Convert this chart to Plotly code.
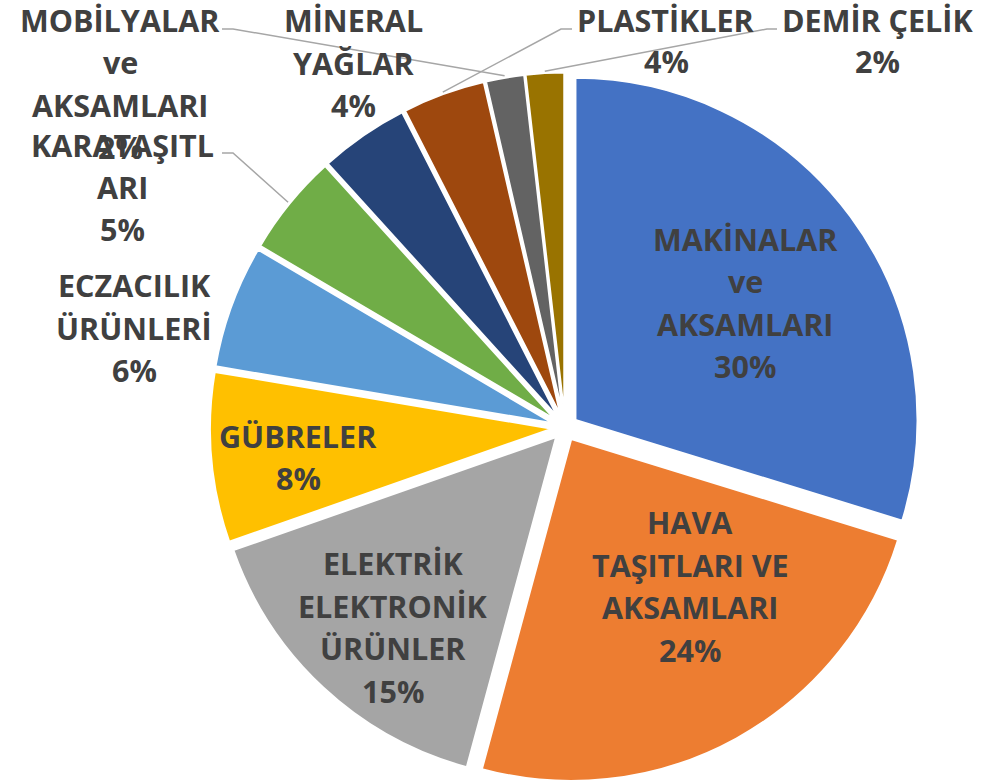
import math
import plotly.graph_objects as go

# ---- data ----
categories = ["MAKİNALAR ve AKSAMLARI", "HAVA TAŞITLARI VE AKSAMLARI",
              "ELEKTRİK ELEKTRONİK ÜRÜNLER", "GÜBRELER", "ECZACILIK ÜRÜNLERİ",
              "KARATAŞITLARI", "MİNERAL YAĞLAR", "PLASTİKLER",
              "MOBİLYALAR ve AKSAMLARI", "DEMİR ÇELİK"]
values = [29.7, 24.4, 15.4, 8.0, 5.8, 4.8, 4.2, 3.9, 1.8, 1.8]
label_lines = [["MAKİNALAR", "ve", "AKSAMLARI"],
               ["HAVA", "TAŞITLARI VE", "AKSAMLARI"],
               ["ELEKTRİK", "ELEKTRONİK", "ÜRÜNLER"],
               ["GÜBRELER"],
               ["ECZACILIK", "ÜRÜNLERİ"],
               ["KARATAŞITL", "ARI"],
               ["MİNERAL", "YAĞLAR"],
               ["PLASTİKLER"],
               ["MOBİLYALAR", "ve", "AKSAMLARI"],
               ["DEMİR ÇELİK"]]
colors = ["#4472C4", "#ED7D31", "#A5A5A5", "#FFC000", "#5B9BD5",
          "#70AD47", "#264478", "#9E480E", "#636363", "#997300"]

# ---- layout constants ----
W, H = 997, 783
PULL = 0.038
DOM_X = [0.2106, 0.9228]
DOM_Y = [0.0005, 0.9073]
FONT = "Open Sans"
FS = 30.5
TXT = "#404040"
# label placement: (center x px, first line center y px, line step px)
label_pos = [(745, 239, 42.4), (690, 522, 42.6), (393, 563, 42.6),
             (298, 436, 42.0), (134, 285, 42.5), (122, 145, 42.0),
             (353, 20, 42.5), (666, 20, 41.0), (120, 20, 42.3),
             (877, 20, 41.0)]
# leader lines: slice index -> (text end x, elbow x, y)
leaders = {5: (222, 233, 153), 7: (572, 561, 29), 8: (222, 233, 29),
           9: (777, 767, 29)}

total = sum(values)
pcts = [f"{round(v / total * 100)}%" for v in values]

fig = go.Figure(go.Pie(
    labels=categories, values=values, sort=False, direction="clockwise",
    rotation=0, pull=[PULL] * len(values), textinfo="none",
    hoverinfo="label+percent",
    marker=dict(colors=colors, line=dict(color="white", width=2)),
    domain=dict(x=DOM_X, y=DOM_Y), showlegend=False))


def px2paper(x, y):
    return x / W, 1 - y / H


annotations = []
for i, (lines, (x, y0, step)) in enumerate(zip(label_lines, label_pos)):
    for j, t in enumerate(lines + [pcts[i]]):
        px, py = px2paper(x, y0 + j * step)
        annotations.append(dict(x=px, y=py, xref="paper", yref="paper",
                                text=t, showarrow=False, xanchor="center",
                                yanchor="middle",
                                font=dict(family=FONT, size=FS, color=TXT,
                                          weight="bold")))

# pie geometry (same as plotly's scalePies)
boxw = W * (DOM_X[1] - DOM_X[0])
boxh = H * (DOM_Y[1] - DOM_Y[0])
r = min(boxw, boxh) / 2 / (1 + PULL)
cx = W * (DOM_X[0] + DOM_X[1]) / 2
cy = H * (1 - (DOM_Y[0] + DOM_Y[1]) / 2)

shapes = []
cum = 0
mids = []
for v in values:
    a = (cum + v / 2) / total * 2 * math.pi
    mids.append(a)
    cum += v
for i, (x0, xe, y) in leaders.items():
    a = mids[i]
    sx = cx + PULL * r * math.sin(a) + (r + 2) * math.sin(a)
    sy = cy - PULL * r * math.cos(a) - (r + 2) * math.cos(a)
    p0 = px2paper(x0, y)
    p1 = px2paper(xe, y)
    p2 = px2paper(sx, sy)
    shapes.append(dict(type="path", xref="paper", yref="paper",
                       path=f"M {p0[0]},{p0[1]} L {p1[0]},{p1[1]} L {p2[0]},{p2[1]}",
                       line=dict(color="#A6A6A6", width=1.5)))

fig.update_layout(width=W, height=H, margin=dict(l=0, r=0, t=0, b=0),
                  paper_bgcolor="white", plot_bgcolor="white",
                  annotations=annotations, shapes=shapes)

fig.write_html("out.html", config={"displayModeBar": False},
               post_script="document.body.style.margin='0';")
